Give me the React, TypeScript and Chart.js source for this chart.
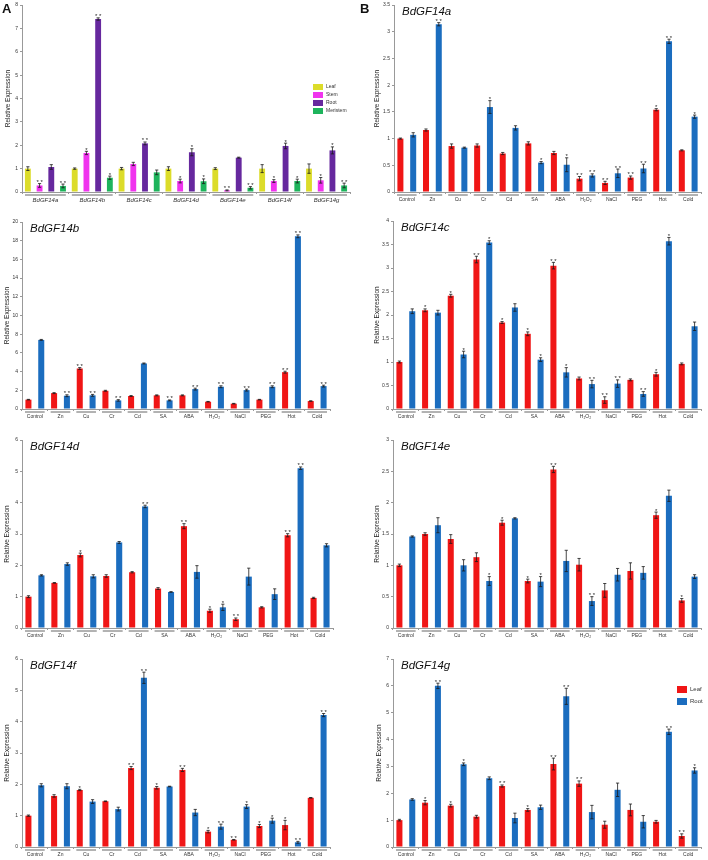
import React, { useEffect, useRef } from "react";
import { Chart, registerables } from "chart.js";
Chart.register(...registerables);
Chart.defaults.font.family = "'Liberation Sans', Arial, sans-serif";

// ---------- Panel A: tissue expression ----------
const GENES = ["BdGF14a", "BdGF14b", "BdGF14c", "BdGF14d", "BdGF14e", "BdGF14f", "BdGF14g"];
const A_LEAF = [1.0, 1.0, 1.0, 1.0, 1.0, 1.0, 1.0];
const A_LEAF_ERR = [0.08, 0.03, 0.05, 0.08, 0.04, 0.17, 0.2];
const A_LEAF_SIG = ["", "", "", "", "", "", ""];
const A_STEM = [0.28, 1.67, 1.2, 0.47, 0.07, 0.47, 0.5];
const A_STEM_ERR = [0.08, 0.07, 0.07, 0.08, 0.02, 0.06, 0.12];
const A_STEM_SIG = ["**", "*", "", "*", "**", "*", "*"];
const A_ROOT = [1.07, 7.4, 2.08, 1.7, 1.47, 1.97, 1.78];
const A_ROOT_ERR = [0.1, 0.05, 0.06, 0.15, 0.02, 0.12, 0.15];
const A_ROOT_SIG = ["", "**", "**", "*", "", "*", "*"];
const A_MER = [0.26, 0.61, 0.84, 0.46, 0.18, 0.47, 0.28];
const A_MER_ERR = [0.08, 0.07, 0.1, 0.1, 0.05, 0.08, 0.1];
const A_MER_SIG = ["**", "*", "", "*", "**", "*", "**"];

// ---------- Panel B: treatments ----------
const TREATMENTS = ["Control", "Zn", "Cu", "Cr", "Cd", "SA", "ABA", "H₂O₂", "NaCl", "PEG", "Hot", "Cold"];

const LEAF_A = [1.0, 1.16, 0.86, 0.87, 0.72, 0.91, 0.73, 0.25, 0.17, 0.27, 1.54, 0.78];
const LEAF_A_ERR = [0.01, 0.02, 0.04, 0.03, 0.02, 0.03, 0.03, 0.04, 0.03, 0.03, 0.02, 0.01];
const LEAF_A_SIG = ["", "", "", "", "", "", "", "**", "**", "**", "*", ""];
const ROOT_A = [1.07, 3.14, 0.83, 1.59, 1.2, 0.55, 0.51, 0.31, 0.35, 0.44, 2.82, 1.41];
const ROOT_A_ERR = [0.04, 0.03, 0.01, 0.12, 0.04, 0.02, 0.13, 0.03, 0.08, 0.08, 0.04, 0.03];
const ROOT_A_SIG = ["", "**", "", "*", "", "*", "*", "**", "**", "**", "**", "*"];

const LEAF_B = [1.0, 1.7, 4.33, 1.95, 1.39, 1.46, 1.46, 0.78, 0.57, 1.0, 3.94, 0.85];
const LEAF_B_ERR = [0.03, 0.05, 0.1, 0.05, 0.05, 0.05, 0.05, 0.03, 0.03, 0.03, 0.1, 0.03];
const LEAF_B_SIG = ["", "", "**", "", "", "", "", "", "", "", "**", ""];
const ROOT_B = [7.39, 1.42, 1.46, 0.92, 4.87, 0.92, 2.13, 2.38, 2.02, 2.38, 18.47, 2.45];
const ROOT_B_ERR = [0.05, 0.1, 0.1, 0.08, 0.05, 0.05, 0.1, 0.1, 0.1, 0.1, 0.15, 0.1];
const ROOT_B_SIG = ["", "**", "**", "**", "", "**", "**", "**", "**", "**", "**", "**"];

const LEAF_C = [1.0, 2.1, 2.41, 3.18, 1.84, 1.6, 3.05, 0.65, 0.19, 0.62, 0.74, 0.96];
const LEAF_C_ERR = [0.02, 0.03, 0.03, 0.07, 0.02, 0.04, 0.07, 0.03, 0.07, 0.02, 0.04, 0.02];
const LEAF_C_SIG = ["", "*", "*", "**", "*", "*", "**", "", "**", "", "*", ""];
const ROOT_C = [2.08, 2.05, 1.16, 3.54, 2.16, 1.05, 0.78, 0.53, 0.54, 0.32, 3.57, 1.76];
const ROOT_C_ERR = [0.05, 0.05, 0.07, 0.04, 0.08, 0.04, 0.1, 0.08, 0.08, 0.05, 0.08, 0.09];
const ROOT_C_SIG = ["", "", "*", "*", "", "*", "*", "**", "**", "**", "*", ""];

const LEAF_D = [1.0, 1.44, 2.33, 1.66, 1.78, 1.26, 3.25, 0.55, 0.28, 0.66, 2.96, 0.96];
const LEAF_D_ERR = [0.03, 0.01, 0.06, 0.04, 0.02, 0.03, 0.08, 0.05, 0.04, 0.02, 0.05, 0.02];
const LEAF_D_SIG = ["", "", "*", "", "", "", "**", "*", "**", "", "**", ""];
const ROOT_D = [1.68, 2.04, 1.65, 2.73, 3.88, 1.15, 1.79, 0.66, 1.64, 1.08, 5.1, 2.64];
const ROOT_D_ERR = [0.02, 0.04, 0.05, 0.03, 0.04, 0.01, 0.2, 0.1, 0.27, 0.17, 0.04, 0.05];
const ROOT_D_SIG = ["", "", "", "", "**", "", "", "*", "", "", "**", ""];

const LEAF_E = [1.0, 1.5, 1.42, 1.13, 1.68, 0.75, 2.53, 1.01, 0.6, 0.91, 1.8, 0.44];
const LEAF_E_ERR = [0.02, 0.02, 0.07, 0.07, 0.04, 0.03, 0.05, 0.1, 0.11, 0.13, 0.05, 0.03];
const LEAF_E_SIG = ["", "", "", "", "*", "*", "**", "", "", "", "*", "*"];
const ROOT_E = [1.46, 1.64, 1.0, 0.75, 1.75, 0.74, 1.07, 0.43, 0.85, 0.88, 2.11, 0.82];
const ROOT_E_ERR = [0.01, 0.12, 0.09, 0.07, 0.01, 0.08, 0.17, 0.07, 0.1, 0.1, 0.09, 0.03];
const ROOT_E_SIG = ["", "", "", "*", "", "*", "", "**", "", "", "", ""];

const LEAF_F = [1.0, 1.63, 1.82, 1.46, 2.52, 1.89, 2.46, 0.49, 0.23, 0.67, 0.7, 1.57];
const LEAF_F_ERR = [0.02, 0.04, 0.02, 0.01, 0.05, 0.04, 0.05, 0.04, 0.01, 0.05, 0.15, 0.01];
const LEAF_F_SIG = ["", "", "*", "", "**", "*", "**", "*", "**", "*", "*", ""];
const ROOT_F = [1.97, 1.94, 1.45, 1.21, 5.4, 1.93, 1.1, 0.65, 1.29, 0.84, 0.15, 4.21];
const ROOT_F_ERR = [0.05, 0.08, 0.06, 0.06, 0.18, 0.01, 0.1, 0.08, 0.06, 0.08, 0.03, 0.05];
const ROOT_F_SIG = ["", "", "", "", "**", "", "", "**", "*", "*", "**", "**"];

const LEAF_G = [1.0, 1.65, 1.54, 1.13, 2.27, 1.38, 3.09, 2.36, 0.83, 1.38, 0.94, 0.41];
const LEAF_G_ERR = [0.03, 0.08, 0.05, 0.05, 0.04, 0.05, 0.22, 0.1, 0.13, 0.22, 0.05, 0.08];
const LEAF_G_SIG = ["", "*", "*", "", "**", "*", "**", "**", "", "", "", "**"];
const ROOT_G = [1.77, 6.0, 3.08, 2.56, 1.08, 1.48, 5.61, 1.3, 2.13, 0.94, 4.29, 2.85];
const ROOT_G_ERR = [0.03, 0.1, 0.05, 0.05, 0.18, 0.08, 0.3, 0.25, 0.25, 0.23, 0.1, 0.1];
const ROOT_G_SIG = ["", "**", "*", "", "", "", "**", "", "", "", "**", "*"];

// ---------- styling ----------
const C_LEAF_Y = "#dcdc2a";
const C_STEM = "#f034ee";
const C_ROOT_P = "#66289e";
const C_MER = "#1eb45c";
const C_RED = "#f01616";
const C_BLUE = "#1b6dbf";

const decorPlugin = {
  id: "decor",
  afterDatasetsDraw(chart: any, _args: any, opts: any) {
    const ctx = chart.ctx;
    const ys = chart.scales.y;
    const xs = chart.scales.x;
    const area = chart.chartArea;
    ctx.save();
    chart.data.datasets.forEach((ds: any, i: number) => {
      const meta = chart.getDatasetMeta(i);
      meta.data.forEach((bar: any, j: number) => {
        const v = ds.data[j];
        const e = ds.err[j];
        const x = bar.x;
        const yt = ys.getPixelForValue(v + e);
        const yb = ys.getPixelForValue(Math.max(0, v - e));
        ctx.strokeStyle = "#1a1a1a";
        ctx.lineWidth = 0.8;
        ctx.beginPath();
        ctx.moveTo(x, yt);
        ctx.lineTo(x, yb);
        ctx.moveTo(x - 1.6, yt);
        ctx.lineTo(x + 1.6, yt);
        ctx.moveTo(x - 1.6, yb);
        ctx.lineTo(x + 1.6, yb);
        ctx.stroke();
        const s = ds.sig[j];
        if (s) {
          ctx.fillStyle = "#222";
          ctx.font = "6px 'Liberation Sans', Arial";
          ctx.textAlign = "center";
          ctx.textBaseline = "alphabetic";
          ctx.fillText(s === "**" ? "* *" : "*", x, yt + 0.5);
        }
      });
    });
    const n = chart.data.labels.length;
    const gw = area.width / n;
    ctx.strokeStyle = "#666";
    ctx.lineWidth = 1;
    for (let i = 0; i < n; i++) {
      const cx = xs.getPixelForValue(i);
      ctx.beginPath();
      ctx.moveTo(cx - gw / 2 + 3, area.bottom + 3);
      ctx.lineTo(cx + gw / 2 - 3, area.bottom + 3);
      ctx.stroke();
    }
    if (opts.title) {
      ctx.fillStyle = "#111";
      ctx.font = "italic 11.5px 'Liberation Sans', Arial";
      ctx.textAlign = "left";
      ctx.textBaseline = "alphabetic";
      ctx.fillText(opts.title, area.left + 8, area.top + 10);
    }
    if (opts.legend) {
      const L = opts.legend;
      chart.data.datasets.forEach((ds: any, i: number) => {
        const y = L.y + i * L.gap;
        ctx.fillStyle = ds.backgroundColor;
        ctx.fillRect(L.x, y, L.bw, L.bh);
        ctx.fillStyle = "#333";
        ctx.font = L.font + "px 'Liberation Sans', Arial";
        ctx.textAlign = "left";
        ctx.textBaseline = "middle";
        ctx.fillText(ds.label, L.x + L.bw + 3, y + L.bh / 2);
      });
    }
    ctx.restore();
  },
};

type Series = { label: string; color: string; data: number[]; err: number[]; sig: string[] };
type PanelCfg = {
  x0: number; y0: number; w: number; h: number;
  area: { l: number; t: number; r: number; b: number };
  yMax: number; step: number; labels: string[]; italic?: boolean;
  series: Series[]; barPct: number; titlePad: number;
  title?: string;
  legend?: { x: number; y: number; bw: number; bh: number; gap: number; font: number };
};

function Panel({ cfg }: { cfg: PanelCfg }) {
  const ref = useRef<HTMLCanvasElement>(null);
  useEffect(() => {
    const c = cfg;
    const chart = new Chart(ref.current as HTMLCanvasElement, {
      type: "bar",
      data: {
        labels: c.labels,
        datasets: c.series.map((s) => ({
          label: s.label,
          data: s.data,
          err: s.err,
          sig: s.sig,
          backgroundColor: s.color,
          borderWidth: 0,
          categoryPercentage: 1,
          barPercentage: c.barPct,
        })) as any,
      },
      options: {
        responsive: false,
        animation: false,
        devicePixelRatio: 1,
        layout: { padding: { left: 0, top: c.area.t - c.y0, right: c.x0 + c.w - c.area.r, bottom: 0 } },
        plugins: {
          legend: { display: false },
          tooltip: { enabled: false },
          decor: { title: c.title, legend: c.legend },
        } as any,
        scales: {
          x: {
            afterFit: (s: any) => { s.height = c.y0 + c.h - c.area.b; },
            grid: { display: true, drawOnChartArea: false, tickLength: 2, color: "#999", offset: true },
            border: { color: "#999", width: 1 },
            ticks: {
              font: c.italic ? { size: 6, style: "italic" } : { size: 5 },
              color: "#333", padding: 3, maxRotation: 0, autoSkip: false,
            },
          },
          y: {
            min: 0, max: c.yMax,
            afterFit: (s: any) => { s.width = c.area.l - c.x0; },
            grid: { display: true, drawOnChartArea: false, tickLength: 2, color: "#999" },
            border: { color: "#999", width: 1 },
            ticks: {
              stepSize: c.step, font: { size: 5 }, color: "#333", padding: 2,
              callback: (v: any) => String(Math.round(Number(v) * 100) / 100),
            },
            title: {
              display: true, text: "Relative Expression", font: { size: 6.5 }, color: "#222",
              padding: { top: c.titlePad, bottom: 0 },
            },
          },
        } as any,
      },
      plugins: [decorPlugin],
    });
    return () => chart.destroy();
  }, []);
  return (
    <canvas
      ref={ref}
      width={cfg.w}
      height={cfg.h}
      style={{ position: "absolute", left: cfg.x0, top: cfg.y0, width: cfg.w, height: cfg.h }}
    />
  );
}

function lr(leaf: number[], le: number[], ls: string[], root: number[], re: number[], rs: string[]): Series[] {
  return [
    { label: "Leaf", color: C_RED, data: leaf, err: le, sig: ls },
    { label: "Root", color: C_BLUE, data: root, err: re, sig: rs },
  ];
}

const PANELS: PanelCfg[] = [
  {
    x0: 0, y0: 0, w: 354, h: 210, area: { l: 22, t: 5, r: 350, b: 192 },
    yMax: 8, step: 1, labels: GENES, italic: true, barPct: 0.5, titlePad: 4,
    series: [
      { label: "Leaf", color: C_LEAF_Y, data: A_LEAF, err: A_LEAF_ERR, sig: A_LEAF_SIG },
      { label: "Stem", color: C_STEM, data: A_STEM, err: A_STEM_ERR, sig: A_STEM_SIG },
      { label: "Root", color: C_ROOT_P, data: A_ROOT, err: A_ROOT_ERR, sig: A_ROOT_SIG },
      { label: "Meristem", color: C_MER, data: A_MER, err: A_MER_ERR, sig: A_MER_SIG },
    ],
    legend: { x: 313, y: 84, bw: 10, bh: 6, gap: 8, font: 5 },
  },
  {
    x0: 354, y0: 0, w: 354, h: 210, area: { l: 394, t: 4, r: 701, b: 192 },
    yMax: 3.5, step: 0.5, labels: TREATMENTS, barPct: 0.47, titlePad: 19, title: "BdGF14a",
    series: lr(LEAF_A, LEAF_A_ERR, LEAF_A_SIG, ROOT_A, ROOT_A_ERR, ROOT_A_SIG),
  },
  {
    x0: 0, y0: 210, w: 354, h: 215, area: { l: 22, t: 222, r: 330, b: 409 },
    yMax: 20, step: 2, labels: TREATMENTS, barPct: 0.47, titlePad: 3, title: "BdGF14b",
    series: lr(LEAF_B, LEAF_B_ERR, LEAF_B_SIG, ROOT_B, ROOT_B_ERR, ROOT_B_SIG),
  },
  {
    x0: 354, y0: 210, w: 354, h: 215, area: { l: 393, t: 221, r: 701, b: 409 },
    yMax: 4, step: 0.5, labels: TREATMENTS, barPct: 0.47, titlePad: 19, title: "BdGF14c",
    series: lr(LEAF_C, LEAF_C_ERR, LEAF_C_SIG, ROOT_C, ROOT_C_ERR, ROOT_C_SIG),
  },
  {
    x0: 0, y0: 425, w: 354, h: 215, area: { l: 22, t: 440, r: 333, b: 628 },
    yMax: 6, step: 1, labels: TREATMENTS, barPct: 0.47, titlePad: 3, title: "BdGF14d",
    series: lr(LEAF_D, LEAF_D_ERR, LEAF_D_SIG, ROOT_D, ROOT_D_ERR, ROOT_D_SIG),
  },
  {
    x0: 354, y0: 425, w: 354, h: 215, area: { l: 393, t: 440, r: 701, b: 628 },
    yMax: 3, step: 0.5, labels: TREATMENTS, barPct: 0.47, titlePad: 19, title: "BdGF14e",
    series: lr(LEAF_E, LEAF_E_ERR, LEAF_E_SIG, ROOT_E, ROOT_E_ERR, ROOT_E_SIG),
  },
  {
    x0: 0, y0: 640, w: 354, h: 220, area: { l: 22, t: 659, r: 330, b: 847 },
    yMax: 6, step: 1, labels: TREATMENTS, barPct: 0.47, titlePad: 3, title: "BdGF14f",
    series: lr(LEAF_F, LEAF_F_ERR, LEAF_F_SIG, ROOT_F, ROOT_F_ERR, ROOT_F_SIG),
  },
  {
    x0: 354, y0: 640, w: 354, h: 220, area: { l: 393, t: 659, r: 701, b: 847 },
    yMax: 7, step: 1, labels: TREATMENTS, barPct: 0.47, titlePad: 21, title: "BdGF14g",
    series: lr(LEAF_G, LEAF_G_ERR, LEAF_G_SIG, ROOT_G, ROOT_G_ERR, ROOT_G_SIG),
    legend: { x: 323, y: 46, bw: 10, bh: 7, gap: 12, font: 6 },
  },
];

export default function App() {
  return (
    <div style={{ position: "fixed", left: 0, top: 0, width: 708, height: 860, background: "#fff", overflow: "hidden" }}>
      {PANELS.map((p, i) => (
        <Panel key={i} cfg={p} />
      ))}
      <div style={{ position: "absolute", left: 2, top: 1, font: "bold 13px 'Liberation Sans', Arial", color: "#111" }}>A</div>
      <div style={{ position: "absolute", left: 360, top: 1, font: "bold 13px 'Liberation Sans', Arial", color: "#111" }}>B</div>
    </div>
  );
}
